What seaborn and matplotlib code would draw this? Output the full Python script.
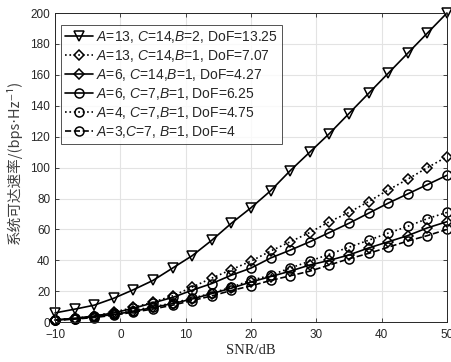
import matplotlib
matplotlib.use("Agg")
import matplotlib.pyplot as plt
import numpy as np
import pandas as pd
import seaborn as sns

# SNR grid (dB) where the markers sit
snr_db = [-10, -7, -4, -1, 2, 5, 8, 11, 14, 17, 20, 23, 26, 29, 32, 35, 38, 41, 44, 47, 50]

# achievable rate values
rate_a13_c14_b2 = [6, 8.4, 11, 15.5, 21, 27, 35, 43, 53, 64, 74, 85, 98, 110, 122, 135, 148, 161, 174, 187, 200]
rate_a13_c14_b1 = [1.5, 2.5, 4, 6.5, 9.5, 13, 17, 22.7, 28.5, 34, 39.5, 46, 52, 58, 65, 71, 78, 85.5, 92.5, 100, 107]
rate_a6_c14_b1 = [1.3, 2.2, 3.5, 5, 7, 9.5, 12, 15, 18.5, 22, 26, 29.5, 33, 37, 40, 43.5, 48, 52, 56, 61, 65]
rate_a6_c7_b1 = [1.5, 2.5, 4, 6, 9, 12.5, 16, 20.7, 25, 30.4, 35, 41.5, 46.6, 52, 58, 64, 70.5, 77, 83, 89, 95]
rate_a4_c7_b1 = [1.3, 2.2, 3.5, 5.2, 7.5, 10, 12.3, 15.5, 18.8, 22.7, 27, 30.4, 35, 39.5, 44, 48.5, 53, 57.6, 62, 67, 71]
rate_a3_c7_b1 = [1.2, 2, 3, 4.5, 6.5, 8.5, 11, 14, 17, 20.5, 23.5, 27, 30, 33, 37, 41, 44.5, 48.5, 52.5, 56, 60]

labels = [
    "$A$=13, $C$=14,$B$=2, DoF=13.25",
    "$A$=13, $C$=14,$B$=1, DoF=7.07",
    "$A$=6, $C$=14,$B$=1, DoF=4.27",
    "$A$=6, $C$=7,$B$=1, DoF=6.25",
    "$A$=4, $C$=7,$B$=1, DoF=4.75",
    "$A$=3,$C$=7, $B$=1, DoF=4",
]
series = [rate_a13_c14_b2, rate_a13_c14_b1, rate_a6_c14_b1,
          rate_a6_c7_b1, rate_a4_c7_b1, rate_a3_c7_b1]
styles = [("-", "v"), (":", "D"), ("-", "D"), ("-", "o"), (":", "o"), ("--", "o")]

sns.set_style("ticks")
plt.rcParams["font.family"] = ["Liberation Sans", "DejaVu Sans"]
plt.rcParams["mathtext.fontset"] = "custom"
plt.rcParams["mathtext.it"] = "Liberation Sans:italic"
plt.rcParams["mathtext.rm"] = "Liberation Sans"

fig = plt.figure(figsize=(4.51, 3.62), dpi=100)
ax = fig.add_axes([0.122, 0.110, 0.869, 0.854])

for vals, lab, (ls, mk) in zip(series, labels, styles):
    df = pd.DataFrame({"snr": snr_db, "rate": vals})
    sns.lineplot(data=df, x="snr", y="rate", ax=ax, color="black", linestyle=ls,
                 linewidth=1.2, marker=mk, markersize=6.5 if mk != "D" else 5.5,
                 markerfacecolor="none", markeredgecolor="black",
                 markeredgewidth=1.1, label=lab, clip_on=False)

ax.set_xlim(-10, 50)
ax.set_ylim(0, 200)
ax.set_xticks(np.arange(-10, 51, 10))
ax.set_yticks(np.arange(0, 201, 20))
ax.grid(True, color="#e3e3e3", linewidth=0.8)
ax.set_axisbelow(True)
ax.tick_params(direction="in", top=True, right=True, labelsize=8.5,
               colors="#262626", length=3, width=0.6)
ax.tick_params(axis="x", pad=5)
for sp in ax.spines.values():
    sp.set_color("#262626")
    sp.set_linewidth(0.7)

ax.set_xlabel("SNR/dB", family=["Liberation Serif"], fontsize=10.5,
              color="#262626", labelpad=2)
ax.set_ylabel("系统可达速率/(bps\u22c5Hz\u207b\u00b9)",
              family=["Noto Sans CJK SC", "DejaVu Sans"], fontsize=10.5,
              color="#404040")
ax.yaxis.set_label_coords(-0.085, 0.52)

leg = ax.legend(loc="upper left", bbox_to_anchor=(0.015, 0.962), fontsize=10,
                frameon=True, fancybox=False, edgecolor="#262626",
                handlelength=2.0, handletextpad=0.25, borderpad=0.3,
                labelspacing=0.22, borderaxespad=0.0)
leg.get_frame().set_linewidth(0.7)

fig.savefig("out.png", dpi=100)
